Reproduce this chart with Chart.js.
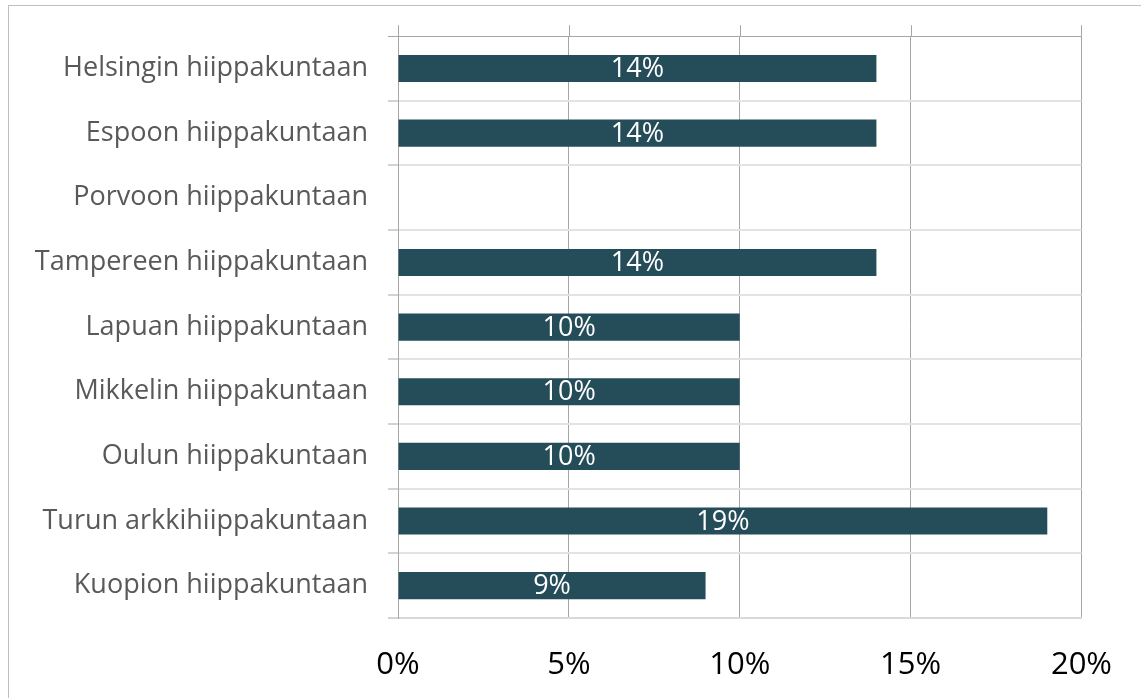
<!DOCTYPE html>
<html>
<head>
<meta charset="utf-8">
<script src="https://cdn.jsdelivr.net/npm/chart.js@4"></script>
<style>
  body { margin: 0; background: #fff; }
  #wrap { position: relative; width: 1141px; height: 698px; overflow: hidden; }
  #frame { position: absolute; left: 8px; top: 5px; width: 1200px; height: 800px; border: 1px solid #bfbfbf; }
  canvas { position: absolute; left: 0; top: 0; }
</style>
</head>
<body>
<div id="wrap">
  <div id="frame"></div>
  <canvas id="myChart" width="1141" height="698"></canvas>
</div>
<script>
'use strict';

let categories = ['Helsingin hiippakuntaan', 'Espoon hiippakuntaan', 'Porvoon hiippakuntaan', 'Tampereen hiippakuntaan', 'Lapuan hiippakuntaan', 'Mikkelin hiippakuntaan', 'Oulun hiippakuntaan', 'Turun arkkihiippakuntaan', 'Kuopion hiippakuntaan'];
let shares = [14, 14, 0, 14, 10, 10, 10, 19, 9];
let xTicks = [0, 5, 10, 15, 20];

let fontName = '"Open Sans", "Liberation Sans", sans-serif';

// labels inside the bars
const barLabels = {
  id: 'barLabels',
  afterDatasetsDraw(chart) {
    let ctx = chart.ctx;
    let meta = chart.getDatasetMeta(0);
    ctx.save();
    ctx.font = '27px ' + fontName;
    ctx.fillStyle = '#ffffff';
    ctx.textAlign = 'center';
    ctx.textBaseline = 'middle';
    meta.data.forEach(function (bar, i) {
      if (!shares[i]) return;
      let mid = (bar.x + bar.base) / 2;
      ctx.fillText(shares[i] + '%', mid, bar.y + 1);
    });
    ctx.restore();
  }
};

// vertical grid lines stick out a bit above the top line
const gridStub = {
  id: 'gridStub',
  beforeDatasetsDraw(chart) {
    let ctx = chart.ctx;
    let xs = chart.scales.x;
    let top = chart.chartArea.top;
    ctx.save();
    ctx.strokeStyle = '#a6a6a6';
    ctx.lineWidth = 1;
    xTicks.forEach(function (t) {
      let px = Math.round(xs.getPixelForValue(t)) + 0.5;
      ctx.beginPath();
      ctx.moveTo(px, top - 11);
      ctx.lineTo(px, top);
      ctx.stroke();
    });
    ctx.restore();
  }
};

const data = {
  labels: categories,
  datasets: [{
    data: shares,
    backgroundColor: '#244c59',
    borderWidth: 0,
    categoryPercentage: 1,
    barPercentage: 0.42
  }]
};

const config = {
  type: 'bar',
  data: data,
  options: {
    indexAxis: 'y',
    responsive: false,
    animation: false,
    layout: { padding: { left: 0, top: 32, right: 59, bottom: 0 } },
    plugins: {
      legend: { display: false },
      tooltip: { enabled: false }
    },
    scales: {
      x: {
        min: 0,
        max: 20,
        afterBuildTicks: function (scale) {
          scale.ticks = xTicks.map(function (v) { return { value: v }; });
        },
        afterFit: function (scale) { scale.height = 80; },
        ticks: {
          callback: function (v) { return v + '%'; },
          color: '#000000',
          font: { family: fontName, size: 31 },
          padding: 29,
          maxRotation: 0
        },
        grid: { color: '#a6a6a6', lineWidth: 1, drawTicks: false },
        border: { color: '#d9d9d9', width: 2 }
      },
      y: {
        afterFit: function (scale) { scale.width = 398; },
        ticks: {
          color: '#595959',
          font: { family: fontName, size: 27 },
          padding: 20
        },
        grid: {
          offset: true,
          color: function (c) { return c.index === 0 ? '#a6a6a6' : '#e3e3e3'; },
          lineWidth: function (c) { return c.index === 0 ? 1 : 2; },
          tickColor: '#a6a6a6',
          tickLength: 10,
          tickWidth: 1
        },
        border: { color: '#a6a6a6', width: 1 }
      }
    }
  },
  plugins: [barLabels, gridStub]
};

const myChart = new Chart(document.getElementById('myChart'), config);
</script>
</body>
</html>
